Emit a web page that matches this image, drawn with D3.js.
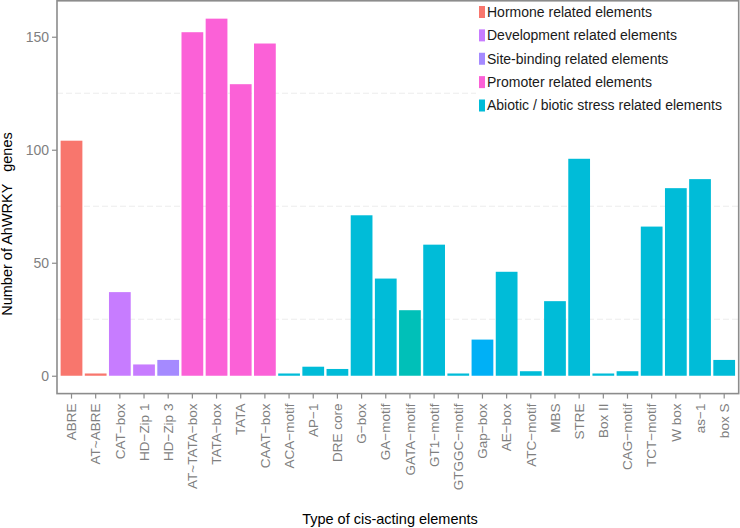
<!DOCTYPE html>
<html><head><meta charset="utf-8">
<script src="https://cdn.jsdelivr.net/npm/d3@7"></script>
<style>html,body{margin:0;padding:0;background:#fff;} svg{display:block;font-family:"Liberation Sans",Arial,sans-serif;}</style>
</head><body>
<svg id="chart" width="740" height="528"></svg>
<script>
const categories = ["ABRE","AT~ABRE","CAT−box","HD−Zip 1","HD−Zip 3","AT~TATA−box","TATA−box","TATA","CAAT−box","ACA−motif","AP−1","DRE core","G−box","GA−motif","GATA−motif","GT1−motif","GTGGC−motif","Gap−box","AE−box","ATC−motif","MBS","STRE","Box II","CAG−motif","TCT−motif","W box","as−1","box S"];
const values = [104,1,37,5,7,152,158,129,147,1,4,3,71,43,29,58,1,16,46,2,33,96,1,2,66,83,87,7];
const groupNames = ["Hormone related elements","Development related elements","Site-binding related elements","Promoter related elements","Abiotic / biotic stress related elements"];
const groupIndex = [0,0,1,1,2,3,3,3,3,4,4,4,4,4,4,4,4,4,4,4,4,4,4,4,4,4,4,4];
const yTicks = [0,50,100,150];
const yMinor = [25,75,125];

// styles
const groupColors = ["#F8766D","#C77CFF","#A58AFF","#FB61D7","#00BCD8"];
const barShade = {"GATA−motif":"#00C0B8","Gap−box":"#00B0F6"};
const barFill = (c,i) => barShade[c] || groupColors[groupIndex[i]];

const svg = d3.select("#chart");
const L = 57, R = 738.7, T = 0.8, B = 393.6;
const x = d3.scaleBand().domain(categories).range([L, R]).paddingInner(0.1).paddingOuter(0.15);
const y = d3.scaleLinear().domain([-7.9, 165.9]).range([B, T]);

// minor grid
svg.append("g").selectAll("line").data(yMinor).join("line")
  .attr("x1", L).attr("x2", R).attr("y1", d => y(d)).attr("y2", d => y(d))
  .attr("stroke", "#ececec").attr("stroke-width", 1).attr("stroke-dasharray", "6,3");

// bars
svg.append("g").selectAll("rect").data(categories).join("rect")
  .attr("x", d => x(d)).attr("width", x.bandwidth())
  .attr("y", (d,i) => y(values[i])).attr("height", (d,i) => y(0) - y(values[i]))
  .attr("fill", (d,i) => barFill(d,i));

// legend
const lg = svg.append("g");
lg.append("rect").attr("x", 476).attr("y", T+1).attr("width", R - 477).attr("height", 118).attr("fill", "#fff");
const rowY = d3.scaleLinear().domain([0, 4]).range([12, 105.5]);
groupNames.forEach((g, i) => {
  lg.append("rect").attr("x", 479).attr("y", rowY(i) - 6).attr("width", 6).attr("height", 12).attr("fill", groupColors[i]);
  lg.append("text").attr("x", 487).attr("y", rowY(i)).attr("dy", "0.35em")
    .attr("font-size", 14).attr("fill", "#1a1a1a").text(g);
});

// panel border
svg.append("rect").attr("x", L).attr("y", T).attr("width", R - L).attr("height", B - T)
  .attr("fill", "none").attr("stroke", "#8c8c8c").attr("stroke-width", 1.6);

// y axis
const yAxis = svg.append("g").attr("transform", `translate(${L},0)`)
  .call(d3.axisLeft(y).tickValues(yTicks).tickSize(5).tickPadding(3));
yAxis.select(".domain").remove();
yAxis.selectAll(".tick line").attr("stroke", "#8c8c8c").attr("stroke-width", 1.2);
yAxis.selectAll(".tick text").attr("font-size", 14).attr("fill", "#7f7f7f").attr("font-family", "Liberation Sans, Arial, sans-serif");

// x axis
const xAxis = svg.append("g").attr("transform", `translate(0,${B})`)
  .call(d3.axisBottom(x).tickSize(5).tickPadding(3));
xAxis.select(".domain").remove();
xAxis.selectAll(".tick line").attr("stroke", "#8c8c8c").attr("stroke-width", 1.2);
xAxis.selectAll(".tick text")
  .attr("font-size", 13.5).attr("fill", "#7f7f7f").attr("font-family", "Liberation Sans, Arial, sans-serif")
  .attr("transform", "rotate(-90)").attr("text-anchor", "end")
  .attr("x", -10).attr("y", 0).attr("dy", "0.35em");

// titles
svg.append("text").attr("x", 390).attr("y", 524).attr("text-anchor", "middle")
  .attr("font-size", 14.5).attr("fill", "#000").text("Type of cis-acting elements");
svg.append("text").attr("transform", "translate(12,224) rotate(-90)").attr("text-anchor", "middle")
  .attr("font-size", 14.5).attr("fill", "#000").attr("xml:space", "preserve").style("white-space", "pre")
  .text("Number of AhWRKY   genes");
</script>
</body></html>
